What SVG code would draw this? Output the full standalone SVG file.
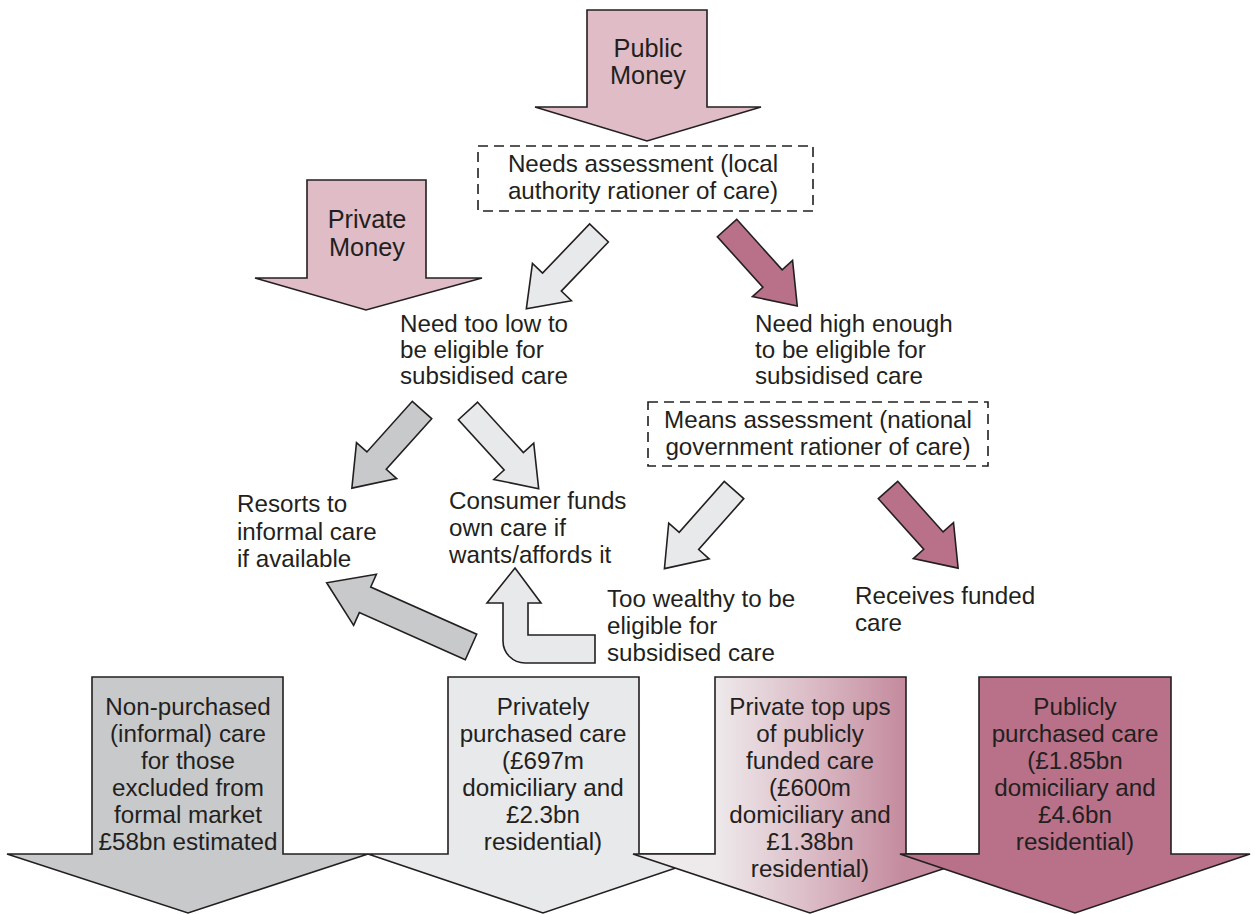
<svg xmlns="http://www.w3.org/2000/svg" width="1255" height="914" viewBox="0 0 1255 914">
<defs>
<linearGradient id="gC" x1="715" y1="0" x2="906" y2="0" gradientUnits="userSpaceOnUse">
<stop offset="0" stop-color="#eeeaec"/>
<stop offset="0.5" stop-color="#dbbcc6"/>
<stop offset="1" stop-color="#c48a9d"/>
</linearGradient>
</defs>
<style>
.s{stroke:#231f20;stroke-width:1.6;stroke-linejoin:miter}
.pink{fill:#dfbcc6}
.mar{fill:#b87189}
.lg{fill:#e8e9eb}
.mg{fill:#c8c9cb}
.box{fill:none;stroke:#231f20;stroke-width:1.6;stroke-dasharray:10,6}
text{font-family:"Liberation Sans",Arial,sans-serif;font-size:24.2px;fill:#231f20}
.c{text-anchor:middle}
.m{font-size:25.3px}
</style>
<g id="connectors">
<path class="s lg" transform="translate(599,233) rotate(133.8)" d="M0,-13 L68,-13 L68,-27 L105,0 L68,27 L68,13 L0,13 Z"/>
<path class="s mar" transform="translate(727,228) rotate(48)" d="M0,-13 L68,-13 L68,-27 L105,0 L68,27 L68,13 L0,13 Z"/>
<path class="s mg" transform="translate(422,410) rotate(131.9)" d="M0,-13 L68,-13 L68,-27 L105,0 L68,27 L68,13 L0,13 Z"/>
<path class="s lg" transform="translate(468,411) rotate(47.7)" d="M0,-13 L68,-13 L68,-27 L105,0 L68,27 L68,13 L0,13 Z"/>
<path class="s lg" transform="translate(734,490) rotate(131.5)" d="M0,-13 L68,-13 L68,-27 L105,0 L68,27 L68,13 L0,13 Z"/>
<path class="s mar" transform="translate(888,490) rotate(48.1)" d="M0,-13 L68,-13 L68,-27 L105,0 L68,27 L68,13 L0,13 Z"/>
<path class="s mg" transform="translate(471,647) rotate(-156)" d="M0,-14 L116,-14 L116,-28 L158,0 L116,28 L116,14 L0,14 Z"/>
<path class="s lg" d="M515,568 L541,603 L528,603 L528,635 L595,635 L595,663 L525,663 A22,22 0 0 1 503,641 L503,603 L487,603 Z"/>
</g>
<g id="public-money">
<path class="s pink" d="M587,10 L707,10 L707,107 L761,107 L647,141 L535,107 L587,107 Z"/>
<text class="c m" x="648" y="57">Public</text>
<text class="c m" x="648" y="84">Money</text>
</g>
<g id="private-money">
<path class="s pink" d="M307,180 L426,180 L426,278 L482,278 L366,310 L255,278 L307,278 Z"/>
<text class="c m" x="367" y="228">Private</text>
<text class="c m" x="367" y="256">Money</text>
</g>
<g id="needs-assessment">
<rect class="box" x="478" y="146" width="335" height="65"/>
<text class="c" x="643" y="172">Needs assessment (local</text>
<text class="c" x="643" y="199">authority rationer of care)</text>
</g>
<g id="need-too-low">
<text x="400" y="332">Need too low to</text>
<text x="400" y="358">be eligible for</text>
<text x="400" y="384">subsidised care</text>
</g>
<g id="need-high">
<text x="755" y="332">Need high enough</text>
<text x="755" y="358">to be eligible for</text>
<text x="755" y="384">subsidised care</text>
</g>
<g id="means-assessment">
<rect class="box" x="648" y="402" width="340" height="64"/>
<text class="c" x="818" y="428">Means assessment (national</text>
<text class="c" x="818" y="455">government rationer of care)</text>
</g>
<g id="resorts">
<text x="237" y="512">Resorts to</text>
<text x="237" y="540">informal care</text>
<text x="237" y="567">if available</text>
</g>
<g id="consumer">
<text x="449" y="509">Consumer funds</text>
<text x="449" y="536">own care if</text>
<text x="449" y="563">wants/affords it</text>
</g>
<g id="too-wealthy">
<text x="607" y="607">Too wealthy to be</text>
<text x="607" y="634">eligible for</text>
<text x="607" y="661">subsidised care</text>
</g>
<g id="receives">
<text x="855" y="604">Receives funded</text>
<text x="855" y="631">care</text>
</g>
<g id="non-purchased">
<path class="s mg" d="M92,677 L283,677 L283,854 L368,854 L188,913 L7,854 L92,854 Z"/>
<text class="c" x="188" y="715">Non-purchased</text>
<text class="c" x="188" y="742">(informal) care</text>
<text class="c" x="188" y="769">for those</text>
<text class="c" x="188" y="796">excluded from</text>
<text class="c" x="188" y="823">formal market</text>
<text class="c" x="188" y="850">£58bn estimated</text>
</g>
<g id="privately-purchased">
<path class="s lg" d="M448,677 L639,677 L639,854 L717,854 L543,913 L368,854 L448,854 Z"/>
<text class="c" x="543" y="715">Privately</text>
<text class="c" x="543" y="742">purchased care</text>
<text class="c" x="543" y="769">(£697m</text>
<text class="c" x="543" y="796">domiciliary and</text>
<text class="c" x="543" y="823">£2.3bn</text>
<text class="c" x="543" y="850">residential)</text>
</g>
<g id="top-ups">
<path class="s" fill="url(#gC)" d="M715,677 L906,677 L906,854 L988,854 L810,913 L633,854 L715,854 Z"/>
<text class="c" x="810" y="715">Private top ups</text>
<text class="c" x="810" y="742">of publicly</text>
<text class="c" x="810" y="769">funded care</text>
<text class="c" x="810" y="796">(£600m</text>
<text class="c" x="810" y="823">domiciliary and</text>
<text class="c" x="810" y="850">£1.38bn</text>
<text class="c" x="810" y="877">residential)</text>
</g>
<g id="publicly-purchased">
<path class="s mar" d="M979,677 L1171,677 L1171,854 L1250,854 L1075,913 L900,854 L979,854 Z"/>
<text class="c" x="1075" y="715">Publicly</text>
<text class="c" x="1075" y="742">purchased care</text>
<text class="c" x="1075" y="769">(£1.85bn</text>
<text class="c" x="1075" y="796">domiciliary and</text>
<text class="c" x="1075" y="823">£4.6bn</text>
<text class="c" x="1075" y="850">residential)</text>
</g>
</svg>
